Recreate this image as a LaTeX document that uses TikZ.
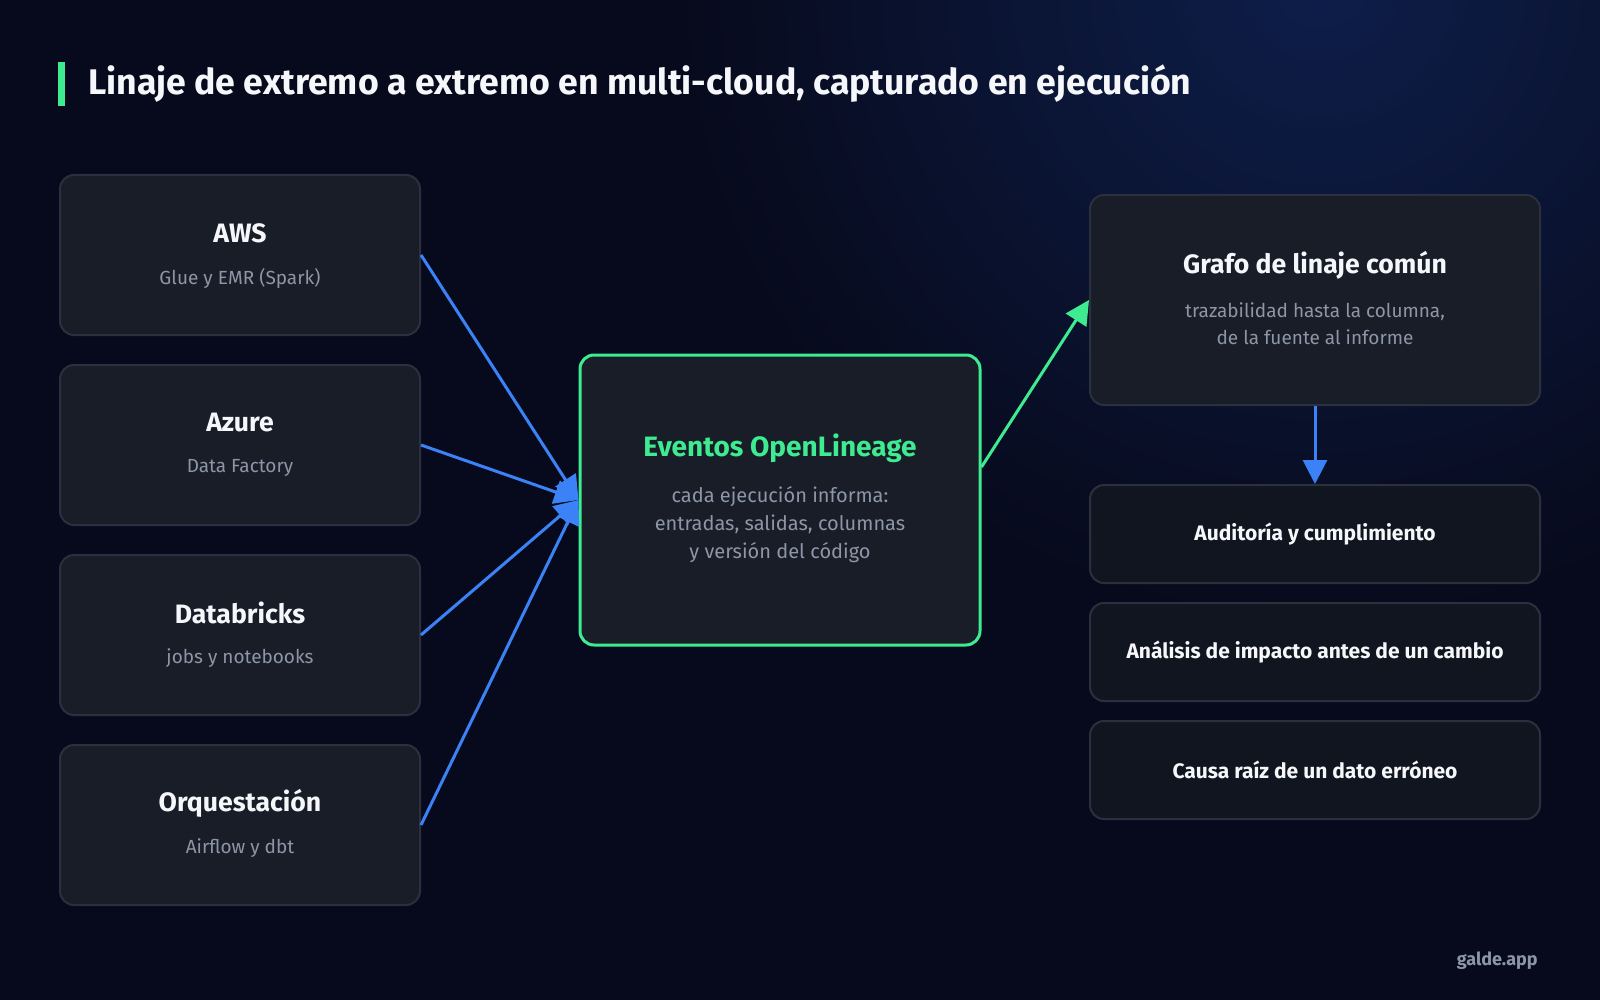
\documentclass[tikz,border=0pt]{standalone}
\usepackage{fontspec}
\setmainfont{Fira Sans}
\usetikzlibrary{arrows.meta,calc}
\definecolor{bgc}{HTML}{070A1C}
\definecolor{glowc}{HTML}{0E1E4A}
\definecolor{boxfill}{HTML}{181D28}
\definecolor{boxline}{HTML}{2A303D}
\definecolor{darkfill}{HTML}{10151F}
\definecolor{greenc}{HTML}{3EEB91}
\definecolor{bluec}{HTML}{3B82F6}
\definecolor{subc}{HTML}{8D96A6}
\definecolor{whitec}{HTML}{F5F7FA}
\begin{document}
\begin{tikzpicture}[x=0.5pt,y=-0.5pt,
  srcbox/.style={draw=boxline,fill=boxfill,line width=1pt,rounded corners=7pt,minimum width=180pt,minimum height=80pt,inner sep=0pt},
  evbox/.style={draw=greenc,fill=boxfill,line width=1.5pt,rounded corners=7pt,minimum width=200pt,minimum height=145pt,inner sep=0pt},
  grbox/.style={draw=boxline,fill=boxfill,line width=1pt,rounded corners=7pt,minimum width=225pt,minimum height=105pt,inner sep=0pt},
  usebox/.style={draw=boxline,fill=darkfill,line width=1pt,rounded corners=7pt,minimum width=225pt,minimum height=49pt,inner sep=0pt,font=\fontsize{10.5pt}{12pt}\selectfont\bfseries,text=whitec},
  ttl/.style={font=\fontsize{13.3pt}{16pt}\selectfont\bfseries,text=whitec,inner sep=0pt},
  sub/.style={font=\fontsize{9.5pt}{13.75pt}\selectfont,text=subc,align=center,inner sep=0pt},
  bluearrow/.style={draw=bluec,line width=1.5pt,-{Triangle[length=12pt,width=12pt]}},
  greenarrow/.style={draw=greenc,line width=1.5pt,-{Triangle[length=12pt,width=12pt]}}
]
\useasboundingbox (0,0) rectangle (1600,1000);
\fill[bgc] (0,0) rectangle (1600,1000);
\begin{scope}
\clip (0,0) rectangle (1600,1000);
\shade[inner color=glowc,outer color=bgc] (1320,-20) circle (650);
\end{scope}

% title
\fill[greenc] (58,62) rectangle (65,106);
\node[anchor=west,inner sep=0pt,text=whitec,font=\fontsize{17.8pt}{20pt}\selectfont\bfseries] (title) at (88,84) {Linaje de extremo a extremo en multi-cloud, capturado en ejecución};

% source boxes
\node[srcbox] (aws) at (240,255) {};
\node[srcbox] (azure) at (240,445) {};
\node[srcbox] (dbx) at (240,635) {};
\node[srcbox] (orq) at (240,825) {};
\node[ttl] (awsT) at ($(aws.center)+(0,-22)$) {AWS};
\node[sub] (awsS) at ($(aws.center)+(0,23)$) {Glue y EMR (Spark)};
\node[ttl] (azureT) at ($(azure.center)+(0,-22)$) {Azure};
\node[sub] (azureS) at ($(azure.center)+(0,23)$) {Data Factory};
\node[ttl] (dbxT) at ($(dbx.center)+(0,-22)$) {Databricks};
\node[sub] (dbxS) at ($(dbx.center)+(0,23)$) {jobs y notebooks};
\node[ttl] (orqT) at ($(orq.center)+(0,-22)$) {Orquestación};
\node[sub] (orqS) at ($(orq.center)+(0,23)$) {Airflow y dbt};

% events box
\node[evbox] (ev) at (780,500) {};
\node[ttl,text=greenc,font=\fontsize{14pt}{16pt}\selectfont\bfseries] (evT) at ($(ev.center)+(0,-52)$) {Eventos OpenLineage};
\node[sub,font=\fontsize{10pt}{14pt}\selectfont] (evS) at ($(ev.center)+(0,25)$) {cada ejecución informa:\\entradas, salidas, columnas\\y versión del código};

% graph box
\node[grbox] (gr) at (1315,300) {};
\node[ttl] (grT) at ($(gr.center)+(0,-35)$) {Grafo de linaje común};
\node[sub] (grS) at ($(gr.center)+(0,23.5)$) {trazabilidad hasta la columna,\\de la fuente al informe};

% use boxes
\node[usebox] (aud) at (1315,534) {Auditoría y cumplimiento};
\node[usebox] (imp) at (1315,652) {Análisis de impacto antes de un cambio};
\node[usebox] (rca) at (1315,770) {Causa raíz de un dato erróneo};

% connectors
\draw[bluearrow] (aws.east) -- (ev.west);
\draw[bluearrow] (azure.east) -- (ev.west);
\draw[bluearrow] (dbx.east) -- (ev.west);
\draw[bluearrow] (orq.east) -- (ev.west);
\coordinate (evout) at ($(ev.east)+(0,-33)$);
\draw[greenarrow] (evout) -- (gr.west);
\draw[bluearrow] (gr.south) -- (aud.north);

% footer
\node[anchor=east,inner sep=0pt,text=subc,font=\fontsize{9pt}{11pt}\selectfont\bfseries] (brand) at (1538,961) {galde.app};
\end{tikzpicture}
\end{document}
